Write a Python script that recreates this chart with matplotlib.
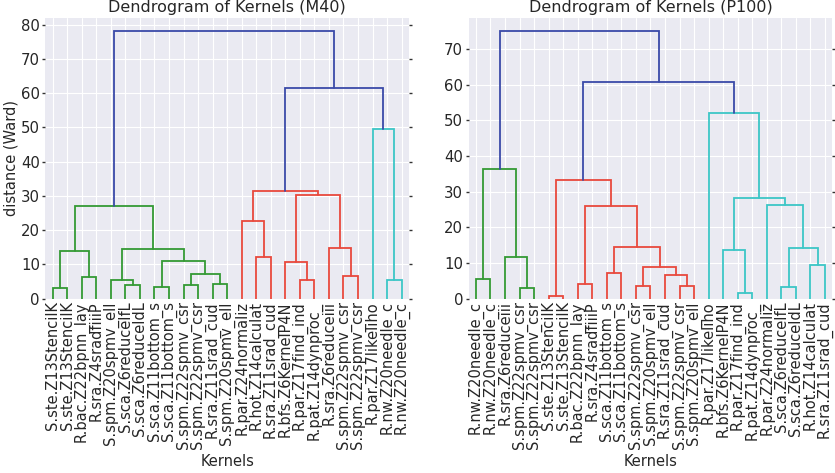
import matplotlib
matplotlib.use("Agg")
import matplotlib.pyplot as plt
import seaborn as sns

# ---- M40 hierarchy (leaves listed in dendrogram order) ----
m40_labels = [
    "S.ste.Z13StencilK", "S.ste.Z13StencilK", "R.bac.Z22bpnn_lay", "R.sra.Z4sradfiiiP",
    "S.spm.Z20spmv_ell", "S.sca.Z6reduceIfL", "S.sca.Z6reduceIdL", "S.sca.Z11bottom_s",
    "S.sca.Z11bottom_s", "S.spm.Z22spmv_csr", "S.spm.Z22spmv_csr", "R.sra.Z11srad_cud",
    "S.spm.Z20spmv_ell", "R.par.Z24normaliz", "R.hot.Z14calculat", "R.sra.Z11srad_cud",
    "R.bfs.Z6KernelP4N", "R.par.Z17find_ind", "R.pat.Z14dynproc_", "R.sra.Z6reduceiii",
    "S.spm.Z22spmv_csr", "S.spm.Z22spmv_csr", "R.par.Z17likeliho", "R.nw.Z20needle_c",
    "R.nw.Z20needle_c",
]
# merge rows: left child, right child, height (ids >= 25 refer to earlier merges)
m40_left = [0, 2, 25, 5, 4, 7, 9, 11, 31, 30, 29, 27, 14, 13, 17, 16, 20, 19, 40, 38, 23, 22, 44, 36]
m40_right = [1, 3, 26, 6, 28, 8, 10, 12, 32, 33, 34, 35, 15, 37, 18, 39, 21, 41, 42, 43, 24, 45, 46, 47]
m40_height = [3.2, 6.4, 13.9, 4.0, 5.4, 3.5, 3.9, 4.2, 7.1, 11.0, 14.6, 27.0,
              12.2, 22.6, 5.5, 10.6, 6.7, 14.9, 30.4, 31.4, 5.4, 49.5, 61.4, 78.0]

# ---- P100 hierarchy ----
p100_labels = [
    "R.nw.Z20needle_c", "R.nw.Z20needle_c", "R.sra.Z6reduceiii", "S.spm.Z22spmv_csr",
    "S.spm.Z22spmv_csr", "S.ste.Z13StencilK", "S.ste.Z13StencilK", "R.bac.Z22bpnn_lay",
    "R.sra.Z4sradfiiiP", "S.sca.Z11bottom_s", "S.sca.Z11bottom_s", "S.spm.Z22spmv_csr",
    "S.spm.Z20spmv_ell", "R.sra.Z11srad_cud", "S.spm.Z22spmv_csr", "S.spm.Z20spmv_ell",
    "R.par.Z17likeliho", "R.bfs.Z6KernelP4N", "R.par.Z17find_ind", "R.pat.Z14dynproc_",
    "R.par.Z24normaliz", "S.sca.Z6reduceIfL", "S.sca.Z6reduceIdL", "R.hot.Z14calculat",
    "R.sra.Z11srad_cud",
]
p100_left = [0, 3, 2, 25, 5, 7, 9, 11, 14, 13, 32, 31, 30, 29, 18, 17, 21, 23, 41, 20, 40, 16, 38, 28]
p100_right = [1, 4, 26, 27, 6, 8, 10, 12, 15, 33, 34, 35, 36, 37, 19, 39, 22, 24, 42, 43, 44, 45, 46, 47]
p100_height = [5.4, 2.9, 11.7, 36.4, 0.8, 4.0, 7.1, 3.6, 3.6, 6.7, 9.0, 14.4, 25.9, 33.2,
               1.7, 13.8, 3.4, 9.5, 14.3, 26.3, 28.2, 52.1, 60.7, 75.0]

CLUSTER_COLORS = ["#349a34", "#e8493d", "#3cc6c6"]
ABOVE_COLOR = "#3a4aa8"


def draw_dendrogram(ax, labels, left, right, height):
    n = len(labels)
    rows = list(zip(left, right, height))
    pos = {i: 5.0 + 10.0 * i for i in range(n)}
    top = {i: 0.0 for i in range(n)}
    for k, (a, b, h) in enumerate(rows):
        pos[n + k] = 0.5 * (pos[a] + pos[b])
        top[n + k] = h
    threshold = 0.7 * max(height)

    # colour every sub-tree below the threshold, left to right
    color_of = {}
    counter = [0]

    def paint(node, col):
        color_of[node] = col
        if node >= n:
            a, b, _ = rows[node - n]
            paint(a, col)
            paint(b, col)

    def assign(node):
        if node < n:
            return
        a, b, h = rows[node - n]
        if h < threshold:
            paint(node, CLUSTER_COLORS[counter[0] % len(CLUSTER_COLORS)])
            counter[0] += 1
        else:
            color_of[node] = ABOVE_COLOR
            assign(a)
            assign(b)

    assign(n + len(rows) - 1)

    for k, (a, b, h) in enumerate(rows):
        node = n + k
        ax.plot([pos[a], pos[a], pos[b], pos[b]], [top[a], h, h, top[b]],
                color=color_of[node], lw=1.3, solid_joinstyle="miter")

    ax.set_xlim(0, 10 * n)
    ax.set_ylim(0, 1.05 * max(height))
    ax.set_xticks([5 + 10 * i for i in range(n)])
    ax.set_xticklabels(labels, rotation=90, fontsize=10.5)


sns.set_style("darkgrid")
plt.rcParams["font.family"] = ["DejaVu Sans"]
plt.rcParams["text.color"] = "#262626"
plt.rcParams["axes.labelcolor"] = "#262626"

fig = plt.figure(figsize=(8.35, 4.73), dpi=100)
ax1 = fig.add_axes([0.0544, 0.3685, 0.4353, 0.5934])
ax2 = fig.add_axes([0.5613, 0.3685, 0.4353, 0.5934])

draw_dendrogram(ax1, m40_labels, m40_left, m40_right, m40_height)
draw_dendrogram(ax2, p100_labels, p100_left, p100_right, p100_height)

ax1.set_yticks(range(0, 81, 10))
ax2.set_yticks(range(0, 71, 10))

for ax, name in ((ax1, "M40"), (ax2, "P100")):
    ax.set_title(f"Dendrogram of Kernels ({name})", fontsize=11.5, pad=4)
    ax.set_xlabel("Kernels", fontsize=10.5, labelpad=3)
    ax.tick_params(axis="y", labelsize=10.7, left=True, right=True, length=2,
                   width=1, color="#333333", pad=2)
    ax.tick_params(axis="x", length=0, pad=2, colors="#262626")
    for s in ax.spines.values():
        s.set_visible(False)

ax1.set_ylabel("distance (Ward)", fontsize=10.5, labelpad=2)

fig.savefig("out.png", dpi=100)
